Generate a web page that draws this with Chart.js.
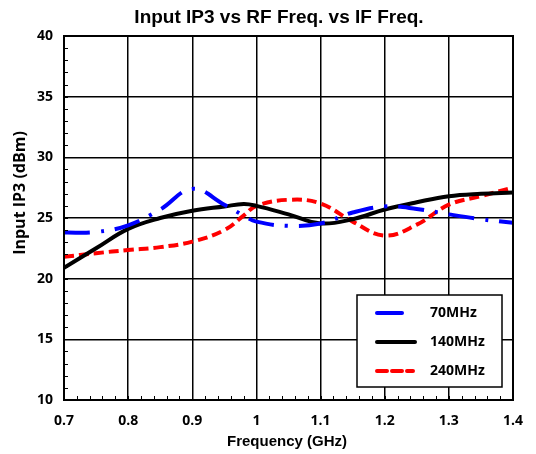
<!DOCTYPE html>
<html><head><meta charset="utf-8">
<script src="https://cdn.jsdelivr.net/npm/chart.js@4.4.0/dist/chart.umd.min.js"></script>
<style>html,body{margin:0;padding:0;background:#fff}#wrap{width:536px;height:454px}</style>
</head><body><div id="wrap"><canvas id="c" width="536" height="454"></canvas></div>
<script>
const freqs = [0.70,0.75,0.80,0.85,0.90,0.95,0.98,1.00,1.05,1.10,1.15,1.20,1.25,1.30,1.35,1.40];
const ip3_70  = [23.8,23.85,24.4,25.7,27.4,26.1,25.2,24.7,24.35,24.55,25.45,25.95,25.75,25.3,24.9,24.6];
const ip3_140 = [20.9,22.5,24.1,25.0,25.6,25.95,26.15,26.0,25.3,24.55,24.9,25.7,26.3,26.8,27.0,27.1];
const ip3_240 = [21.8,22.1,22.36,22.6,23.05,24.0,25.2,26.0,26.5,26.2,24.7,23.55,24.45,26.1,26.8,27.5];
const seriesNames = ['70MHz','140MHz','240MHz'];
const xTicks = [0.7,0.8,0.9,1,1.1,1.2,1.3,1.4];
const yTicks = [10,15,20,25,30,35,40];

const pts = arr => freqs.map((f,i)=>({x:f,y:arr[i]}));
const FONT = '"Open Sans", "DejaVu Sans", sans-serif';
const ARIAL = '"Liberation Sans", Arial, sans-serif';

const extras = {
  id:'extras',
  afterDraw(chart){
    const {ctx, chartArea:a, scales:{x,y}} = chart;
    ctx.save();
    ctx.strokeStyle='#000'; ctx.lineWidth=1;
    for(let v=10; v<=40; v++){
      const py=Math.round(y.getPixelForValue(v))+0.5;
      ctx.beginPath(); ctx.moveTo(a.left,py); ctx.lineTo(a.left+4,py); ctx.stroke();
    }
    for(let k=0;k<=35;k++){
      const px=Math.round(x.getPixelForValue(0.7+k*0.02))+0.5;
      ctx.beginPath(); ctx.moveTo(px,a.bottom); ctx.lineTo(px,a.bottom-4); ctx.stroke();
    }
    ctx.lineWidth=2; ctx.strokeRect(a.left,a.top,a.right-a.left,a.bottom-a.top);
    ctx.fillStyle='#000';
    ctx.font='bold 19px '+ARIAL;
    ctx.textAlign='center'; ctx.textBaseline='middle';
    ctx.fillText('Input IP3 vs RF Freq. vs IF Freq.', 279, 18);
    ctx.font='bold 15px '+ARIAL;
    ctx.fillText('Frequency (GHz)', 287, 442);
    ctx.font='bold 16px '+FONT;
    ctx.save(); ctx.translate(20,193); ctx.rotate(-Math.PI/2);
    ctx.fillText('Input IP3 (dBm)',0,0); ctx.restore();
    const bx=357, by=295, bw=145, bh=92;
    ctx.fillStyle='#fff'; ctx.fillRect(bx,by,bw,bh);
    ctx.strokeStyle='#000'; ctx.lineWidth=1.5; ctx.strokeRect(bx,by,bw,bh);
    const rows=[313,342,371], lens=[29,42,40];
    chart.data.datasets.forEach((ds,i)=>{
      ctx.save();
      ctx.strokeStyle=ds.borderColor; ctx.lineWidth=ds.borderWidth;
      ctx.setLineDash(i===2?[10,5]:[]);
      ctx.lineCap='round';
      ctx.beginPath(); ctx.moveTo(377,rows[i]); ctx.lineTo(377+lens[i]-4,rows[i]); ctx.stroke();
      ctx.restore();
      ctx.fillStyle='#000'; ctx.textAlign='left'; ctx.font='bold 14px '+FONT;
      ctx.fillText(seriesNames[i], 430, rows[i]);
    });
    ctx.restore();
  }
};

new Chart(document.getElementById('c'),{
  type:'line',
  data:{datasets:[
    {label:seriesNames[0],data:pts(ip3_70),borderColor:'#0000ff',borderWidth:4,borderDash:[26,11,3,11],pointRadius:0,tension:0.4,fill:false},
    {label:seriesNames[1],data:pts(ip3_140),borderColor:'#000000',borderWidth:4,pointRadius:0,tension:0.4,fill:false},
    {label:seriesNames[2],data:pts(ip3_240),borderColor:'#ff0000',borderWidth:4,borderDash:[10,5],pointRadius:0,tension:0.4,fill:false}
  ]},
  options:{
    responsive:false, animation:false,
    layout:{padding:{left:0,right:22,top:36,bottom:0}},
    plugins:{legend:{display:false},title:{display:false},tooltip:{enabled:false}},
    scales:{
      x:{type:'linear',min:0.7,max:1.4,
        afterBuildTicks(s){s.ticks=xTicks.map(v=>({value:v}));},
        afterFit(s){s.height=54;},
        grid:{color:'#000',lineWidth:1.5,drawTicks:false},border:{display:false},
        ticks:{padding:13,color:'#000',font:{family:FONT,size:14,weight:'bold'},maxRotation:0,
          callback:v=>String(v)}},
      y:{min:10,max:40,
        afterBuildTicks(s){s.ticks=yTicks.map(v=>({value:v}));},
        afterFit(s){s.width=64;},
        grid:{color:'#000',lineWidth:1.5,drawTicks:false},border:{display:false},
        ticks:{padding:11,color:'#000',font:{family:FONT,size:14,weight:'bold'}}}
    }
  },
  plugins:[extras]
});
</script></body></html>
